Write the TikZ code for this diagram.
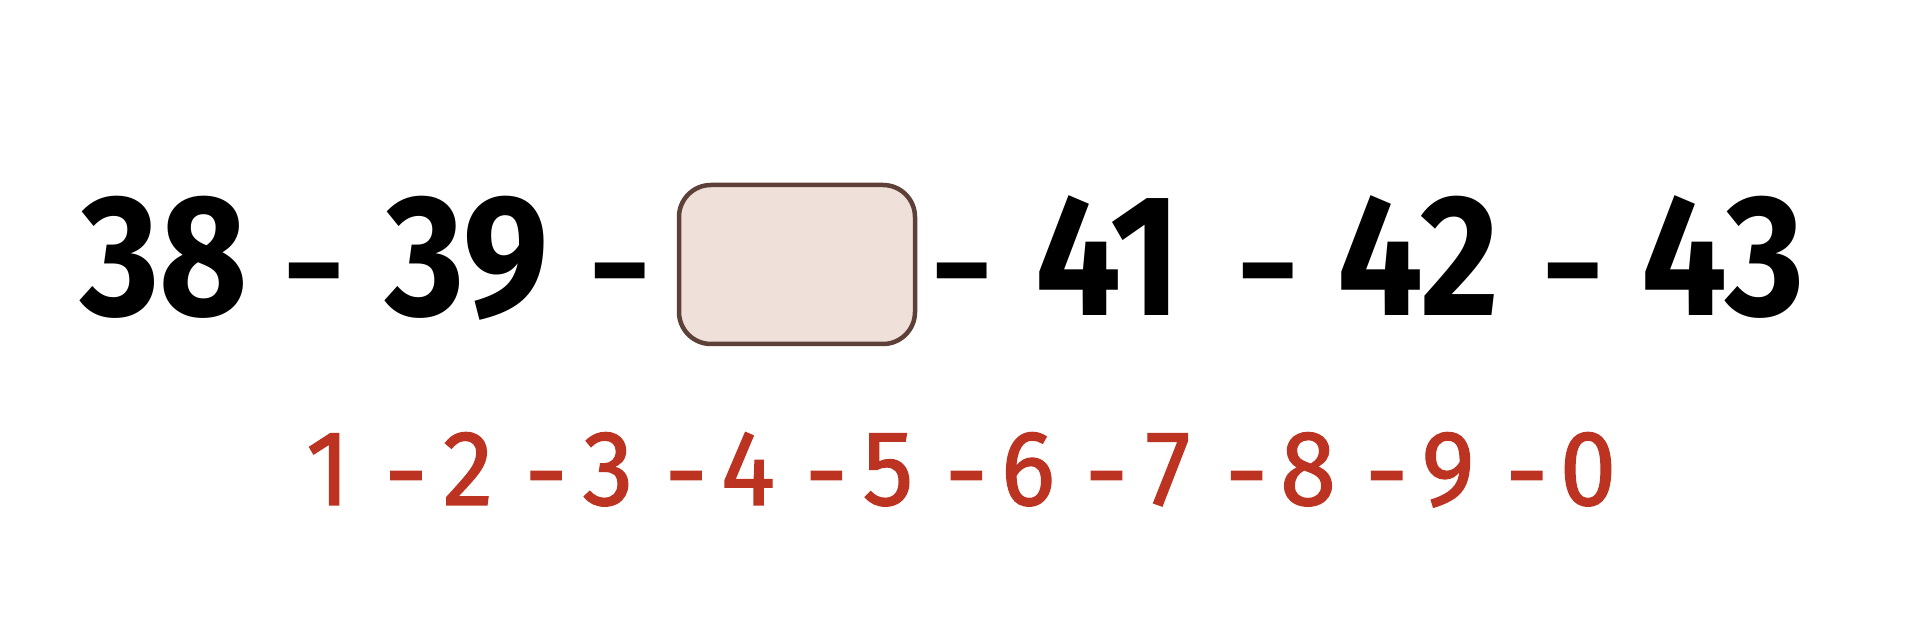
\documentclass[tikz,border=0pt]{standalone}
\usepackage{fontspec}
\setmainfont{Fira Sans}[Numbers=Lining]
\newfontfamily\rednumfont{Fira Sans}[Numbers=Lining, FakeBold=1.2]
\usepackage{graphicx}
\definecolor{numred}{HTML}{BC3421}
\definecolor{boxfill}{HTML}{EFE1DA}
\definecolor{boxline}{HTML}{5D4037}
\newcommand{\narrowbig}[1]{\scalebox{0.88}[1]{#1}}
\newcommand{\flatdash}{\scalebox{0.9}[0.75]{-}}
\tikzset{
  bignum/.style={font=\bfseries\fontsize{173}{173}\selectfont, text=black, inner sep=0pt, anchor=base},
  smallnum/.style={font=\rednumfont\fontsize{107}{107}\selectfont, text=numred, inner sep=0pt, anchor=base},
  blankbox/.style={draw=boxline, line width=4.5pt, fill=boxfill, rounded corners=32pt,
    minimum width=236pt, minimum height=159pt, inner sep=0pt}
}
\begin{document}
\begin{tikzpicture}[x=1pt,y=1pt]
\useasboundingbox (0,0) rectangle (1920,628);
\fill[white] (0,0) rectangle (1920,628);
% top row
\node[bignum] (a) at (164,312) {\narrowbig{38}};
\node[bignum] (d1) at (314,316) {\flatdash};
\node[bignum] (b) at (467,312) {\narrowbig{39}};
\node[bignum] (d2) at (620,316) {\flatdash};
\node[blankbox] (box) at (797,363.5) {};
\node[bignum] (d3) at (962,316) {\flatdash};
\node[bignum] (c) at (1108,312) {\narrowbig{41}};
\node[bignum] (d4) at (1268,316) {\flatdash};
\node[bignum] (e) at (1418,312) {\narrowbig{42}};
\node[bignum] (d5) at (1573,316) {\flatdash};
\node[bignum] (f) at (1723,312) {\narrowbig{43}};
% bottom row
\foreach \t [count=\i from 0] in {1,2,3,4,5,6,7,8,9,0} {
  \node[smallnum] (r\i) at (328+140*\i,123) {\scalebox{0.95}[1]{\t}};
}
\foreach \i in {0,...,8} {
  \node[smallnum] (h\i) at (406+140.1*\i,119) {-};
}
\end{tikzpicture}
\end{document}
